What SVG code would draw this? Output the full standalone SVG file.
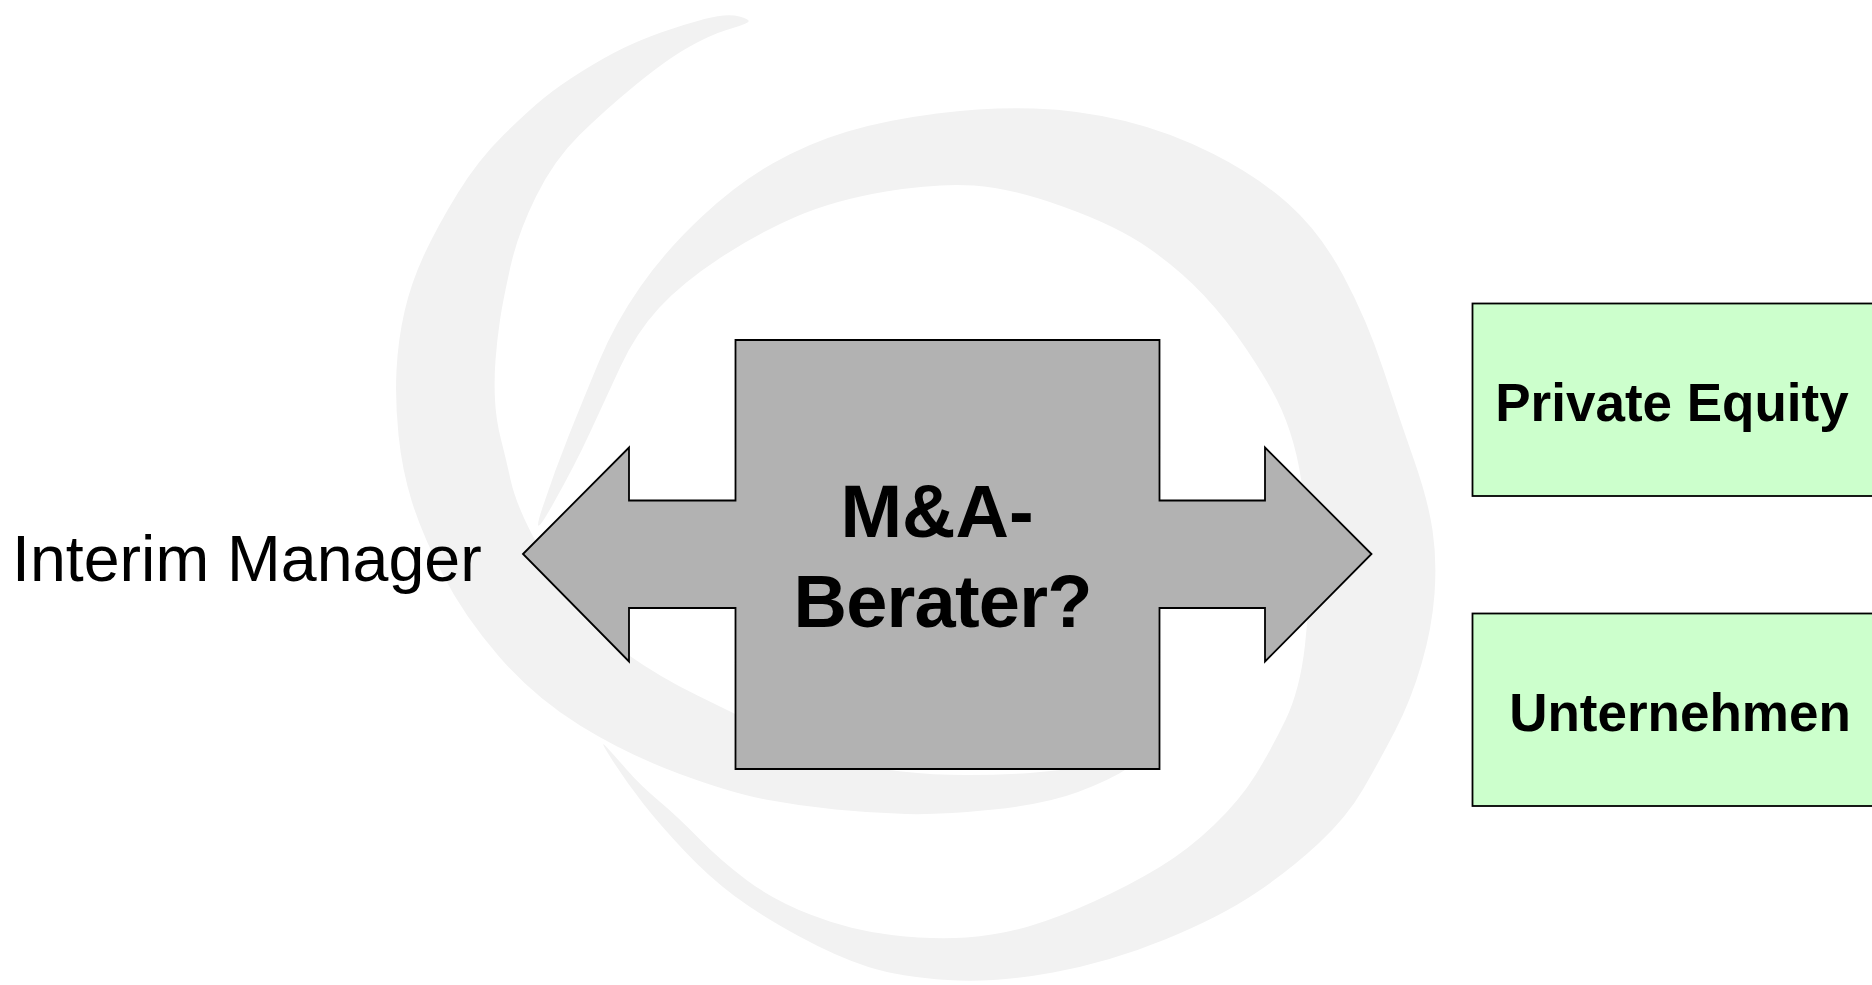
<svg xmlns="http://www.w3.org/2000/svg" width="1872" height="985" viewBox="0 0 1872 985">
<style>
.swirl{fill:#f2f2f2;stroke:none}
.cross{fill:#b2b2b2;stroke:#000;stroke-width:1.8;stroke-linejoin:miter}
.green{fill:#ccffcc;stroke:#000;stroke-width:1.8}
.bold{font-family:"Liberation Sans",Arial,sans-serif;font-weight:bold;fill:#000}
.reg{font-family:"Liberation Sans",Arial,sans-serif;fill:#000}
</style>
<rect width="1872" height="985" fill="#fff"/>
<g id="swirl">
<path class="swirl" d="M747.5,22.5 Q752,20 739.5,16.5 Q727,13 704.5,19 Q682,25 661,32.5 Q640,40 622.5,48.5 Q605,57 582.5,71 Q560,85 544.5,97.5 Q529,110 503.5,135 Q478,160 457.5,193.5 Q437,227 424,255 Q411,283 404.5,311.5 Q398,340 396.5,370 Q395,400 398.5,435 Q402,470 412,502 Q422,534 443,575 Q464,616 499,656.5 Q534,697 580,725.5 Q626,754 678.5,773.5 Q731,793 765.5,799.5 Q800,806 835.5,809.5 Q871,813 906,814 Q941,815 993.5,809.5 Q1046,804 1078,792 Q1110,780 1127.5,768.5 Q1145,757 1155,738.5 Q1165,720 1142.5,740 Q1120,760 1090,765.5 Q1060,771 1030,773 Q1000,775 966.5,775 Q933,775 901.5,771.5 Q870,768 835,758 Q800,748 767,730.5 Q734,713 697.5,695.5 Q661,678 625.5,653 Q590,628 565.5,590.5 Q541,553 528,526.5 Q515,500 510.5,479.5 Q506,459 501,439.5 Q496,420 495,400 Q494,380 495.5,360 Q497,340 500,320 Q503,300 510.5,266.5 Q518,233 536,196.5 Q554,160 579.5,135 Q605,110 635.5,85 Q666,60 688,47.5 Q710,35 726.5,30 Q743,25 747.5,22.5 Z"/>
<path class="swirl" d="M552.5,505 Q530,545 542.5,507.5 Q555,470 569,435 Q583,400 599,361.5 Q615,323 640.5,286.5 Q666,250 702,216.5 Q738,183 773.5,163 Q809,143 847.5,131.5 Q886,120 937,113.5 Q988,107 1034,108.5 Q1080,110 1125,121 Q1170,132 1213.5,154 Q1257,176 1288.5,204 Q1320,232 1343.5,276 Q1367,320 1383.5,370 Q1400,420 1414,460 Q1428,500 1432.5,530 Q1437,560 1434.5,594 Q1432,628 1421.5,664 Q1411,700 1395.5,730 Q1380,760 1363.5,788.5 Q1347,817 1318.5,843.5 Q1290,870 1255,893.5 Q1220,917 1165,939.5 Q1110,962 1053,972.5 Q996,983 948,980 Q900,977 868.5,967 Q837,957 798.5,936 Q760,915 734.5,896 Q709,877 684.5,851 Q660,825 643.5,804 Q627,783 612.5,760.5 Q598,738 606,746.5 Q614,755 627,770 Q640,785 659,801 Q678,817 699,838.5 Q720,860 746.5,880 Q773,900 811.5,915 Q850,930 891.5,935 Q933,940 966.5,937.5 Q1000,935 1030,926 Q1060,917 1095,901 Q1130,885 1159,867.5 Q1188,850 1214,825 Q1240,800 1255.5,775 Q1271,750 1285.5,720 Q1300,690 1305,645 Q1310,600 1308,560 Q1306,520 1303,493.5 Q1300,467 1293.5,443.5 Q1287,420 1277,400 Q1267,380 1247,350 Q1227,320 1203.5,295 Q1180,270 1148.5,248 Q1117,226 1064,207 Q1011,188 974,185.5 Q937,183 886,191.5 Q835,200 796.5,216.5 Q758,233 720,258 Q682,283 659,308 Q636,333 620.5,366.5 Q605,400 590,432.5 Q575,465 552.5,505 Z"/>
</g>
<g id="connectors"></g>
<g id="node-interim">
<text class="reg" x="12" y="581" font-size="64.5">Interim Manager</text>
</g>
<g id="node-berater">
<path class="cross" d="M523,554 L629,447.5 L629,500.5 L735.5,500.5 L735.5,340 L1159.5,340 L1159.5,500.5 L1265,500.5 L1265,447.5 L1371.5,554 L1265,661.5 L1265,608 L1159.5,608 L1159.5,769 L735.5,769 L735.5,608 L629,608 L629,661.5 Z"/>
<text class="bold" x="937" y="537" font-size="74" text-anchor="middle">M&amp;A-</text>
<text class="bold" x="943" y="626.5" font-size="74" text-anchor="middle" textLength="299" lengthAdjust="spacing">Berater?</text>
</g>
<g id="node-pe">
<rect class="green" x="1472.5" y="303.5" width="420" height="192.5"/>
<text class="bold" x="1672" y="421" font-size="53" text-anchor="middle">Private Equity</text>
</g>
<g id="node-unternehmen">
<rect class="green" x="1472.5" y="613.5" width="420" height="192.5"/>
<text class="bold" x="1680" y="730.5" font-size="53" text-anchor="middle">Unternehmen</text>
</g>
</svg>
